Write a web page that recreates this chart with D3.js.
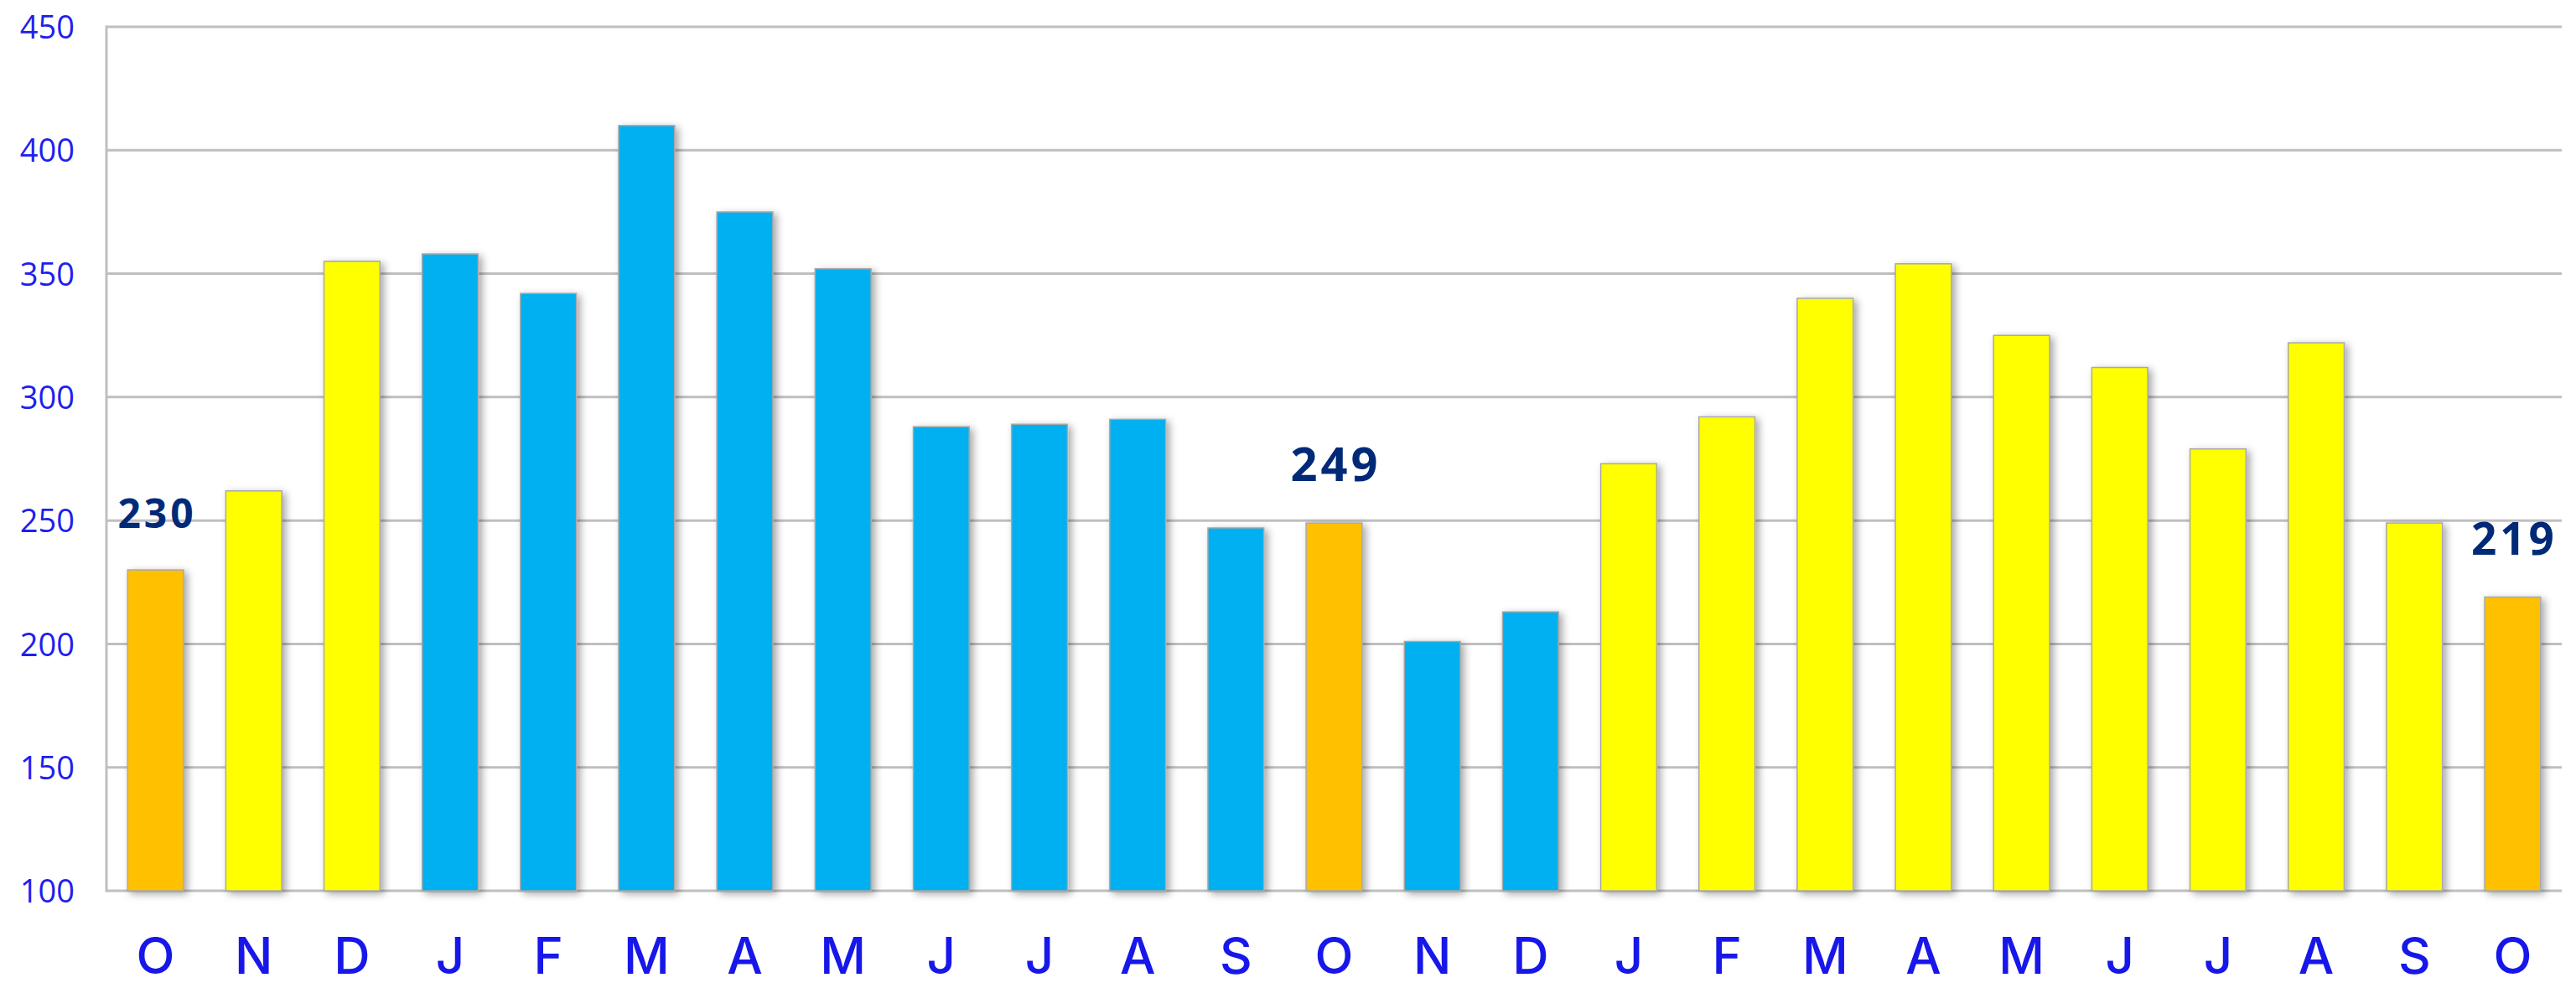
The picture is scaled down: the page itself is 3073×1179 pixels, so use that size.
<!DOCTYPE html>
<html>
<head>
<meta charset="utf-8">
<script src="https://cdn.jsdelivr.net/npm/d3@7"></script>
<style>
  html, body { margin: 0; padding: 0; background: #ffffff; }
  svg { display: block; }
</style>
</head>
<body>
<svg id="chart" width="3073" height="1179"></svg>
<script>
// ---- data ----
const months = ["O","N","D","J","F","M","A","M","J","J","A","S","O","N","D","J","F","M","A","M","J","J","A","S","O"];
const values = [230,262,355,358,342,410,375,352,288,289,291,247,249,201,213,273,292,340,354,325,312,279,322,249,219];
const groups = ["oct","y","y","b","b","b","b","b","b","b","b","b","oct","b","b","y","y","y","y","y","y","y","y","y","oct"];
const groupKeys = ["oct","y","b"];
const yTicks = [100,150,200,250,300,350,400,450];
const labelled = [0,12,24];

// ---- styles ----
const groupColors = ["#FFC000","#FFFF00","#00B0F0"];
const labelSizes = [48,56,53];

(function () {
const svg = d3.select("#chart");
const mLeft = 127, mRight = 3056, mTop = 32, mBottom = 1063;

const x = d3.scaleBand()
  .domain(d3.range(values.length))
  .range([mLeft, mRight])
  .paddingInner(0.43)
  .paddingOuter(0.215);

const y = d3.scaleLinear().domain([100, 450]).range([mBottom, mTop]);
const color = d3.scaleOrdinal().domain(groupKeys).range(groupColors);

// shadow filter
const defs = svg.append("defs");
const f = defs.append("filter").attr("id","shadow")
  .attr("x","-30%").attr("y","-10%").attr("width","170%").attr("height","130%");
f.append("feDropShadow").attr("dx",4).attr("dy",3).attr("stdDeviation",5)
  .attr("flood-color","#000").attr("flood-opacity",0.35);

// gridlines
svg.append("g").selectAll("line").data(yTicks).join("line")
  .attr("x1", mLeft).attr("x2", mRight)
  .attr("y1", d => y(d)).attr("y2", d => y(d))
  .attr("stroke", "#bfbfbf").attr("stroke-width", 3);

// left axis line
svg.append("line")
  .attr("x1", mLeft).attr("x2", mLeft)
  .attr("y1", mTop - 1.5).attr("y2", mBottom + 1.5)
  .attr("stroke", "#bfbfbf").attr("stroke-width", 3);

// y tick labels via axis
const yAxis = svg.append("g")
  .attr("transform", `translate(${mLeft - 38},0)`)
  .call(d3.axisLeft(y).tickValues(yTicks).tickSize(0).tickPadding(0));
yAxis.select(".domain").remove();
yAxis.selectAll("text")
  .attr("font-family", "'Open Sans', 'Noto Sans', sans-serif")
  .attr("font-size", 38)
  .attr("fill", "#1f1fef")
  .attr("dy", "0.36em");

// bars
svg.append("g").selectAll("rect").data(values).join("rect")
  .attr("x", (d,i) => x(i))
  .attr("width", x.bandwidth())
  .attr("y", d => y(d))
  .attr("height", d => y(100) - y(d))
  .attr("fill", (d,i) => color(groups[i]))
  .attr("stroke", "#a8a8a8")
  .attr("stroke-width", 1.5)
  .attr("filter", "url(#shadow)");

// x labels via axis
const xAxis = svg.append("g")
  .attr("transform", `translate(0,${mBottom})`)
  .call(d3.axisBottom(x).tickFormat(i => months[i]).tickSize(0).tickPadding(0));
xAxis.select(".domain").remove();
xAxis.selectAll("text")
  .attr("font-family", "Inter, 'Open Sans', sans-serif")
  .attr("font-size", 60)
  .attr("font-weight", 500)
  .attr("fill", "#1717ea")
  .attr("dy", null)
  .attr("y", 99);

// data labels
svg.append("g").selectAll("text").data(labelled).join("text")
  .attr("x", i => x(i) + x.bandwidth() / 2 + 2)
  .attr("y", i => y(values[i]) - 50)
  .attr("text-anchor", "middle")
  .attr("font-family", "'Open Sans', 'Noto Sans', sans-serif")
  .attr("font-weight", 700)
  .attr("font-size", (i, k) => labelSizes[k])
  .attr("letter-spacing", 4)
  .attr("fill", "#002A78")
  .text(i => values[i]);
})();
</script>
</body>
</html>
